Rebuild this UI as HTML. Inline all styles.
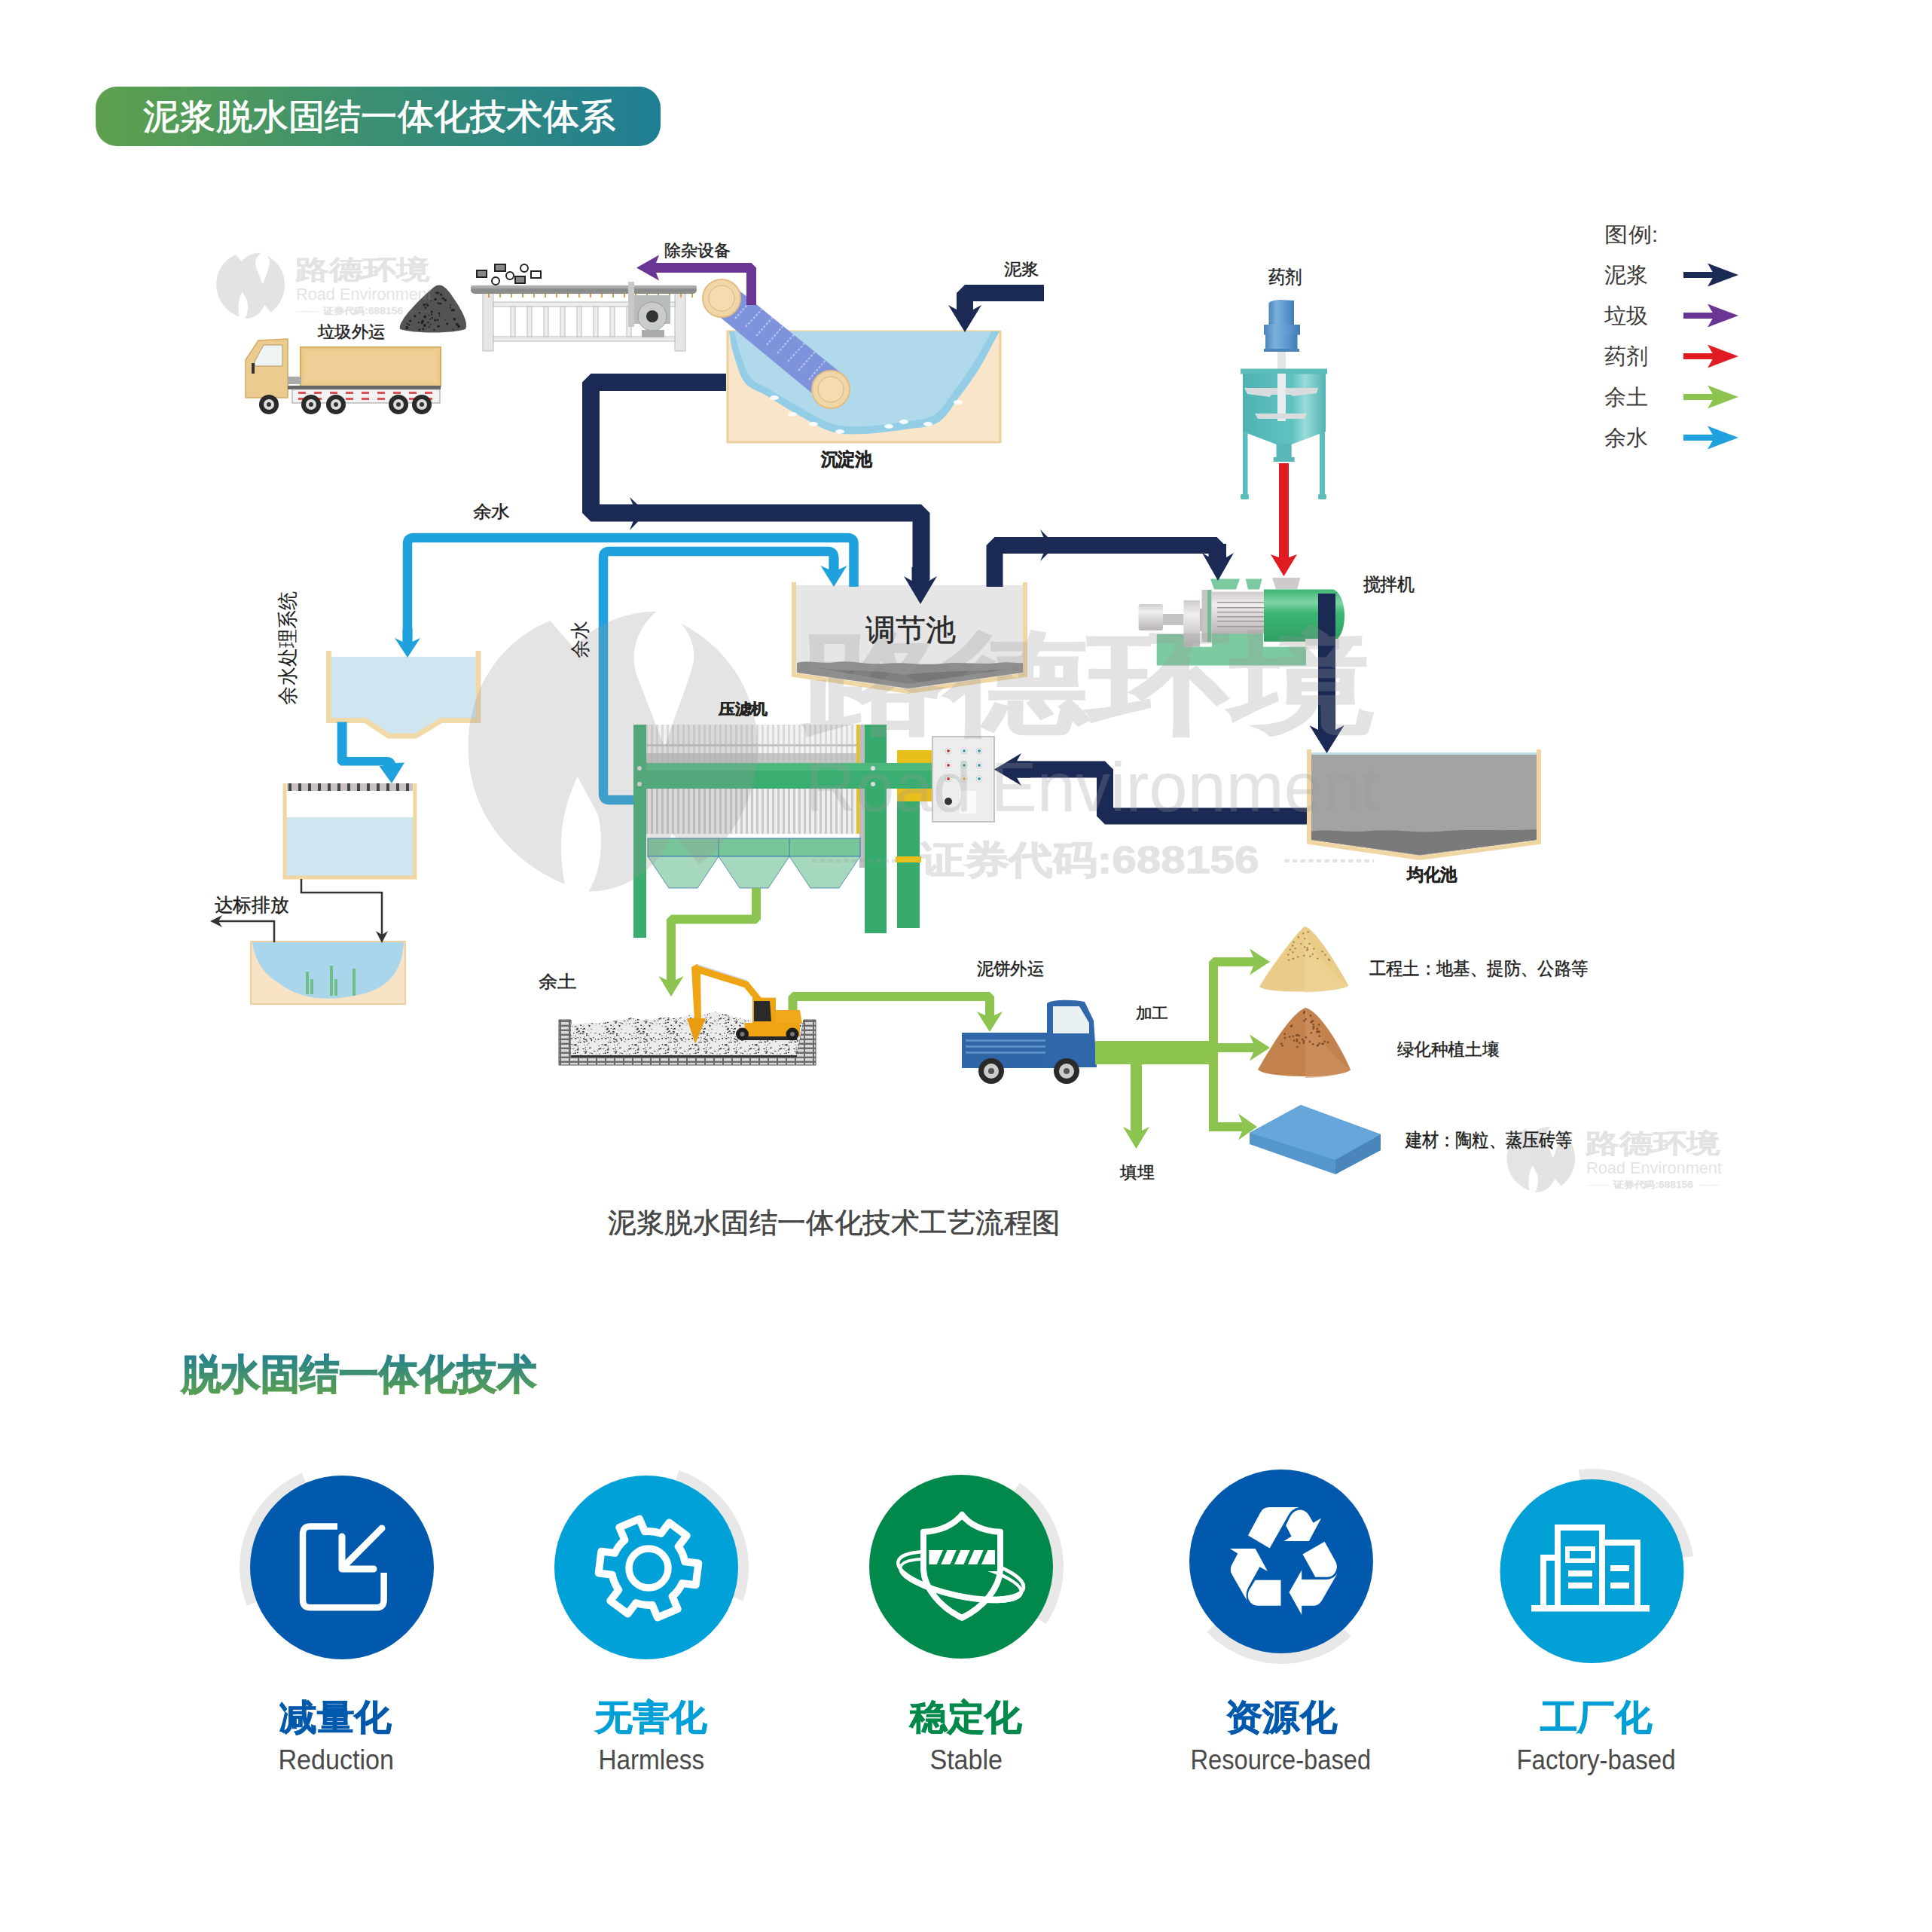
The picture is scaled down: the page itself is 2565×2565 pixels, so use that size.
<!DOCTYPE html><html><head><meta charset="utf-8"><style>html,body{margin:0;padding:0;background:#fff;}svg{display:block}</style></head><body>
<svg width="2565" height="2565" viewBox="0 0 2565 2565" font-family='"Liberation Sans", sans-serif'>
<defs>
<linearGradient id="gTitle" x1="0" y1="0" x2="1" y2="0"><stop offset="0" stop-color="#5da14d"/><stop offset="0.5" stop-color="#3b8f72"/><stop offset="1" stop-color="#1f7e94"/></linearGradient>
<linearGradient id="gSub" x1="0" y1="0" x2="0" y2="1"><stop offset="0" stop-color="#1f7e94"/><stop offset="1" stop-color="#5da14d"/></linearGradient>
<g id="logo"><path d="M26,3.3 L33.4,11.8 C40,4 50,0.5 59.3,0.4 C53,6 51,13 53,20 L61.9,43.1 C65,33 69,24 71,16 C71.5,11 69.5,7 67,4.1 C82,12 91,26 91,43 C91,58 84,71 72.7,79.6 L64.2,69.9 C60,81 50,88 38,88.1 C42,82 43,72 41,64 L34.6,52.2 C30,62 28,72 30.6,85.8 C12,78 0.4,62 0.4,43 C0.4,25 10,10 26,3.3 Z"/></g>
</defs>
<rect width="2565" height="2565" fill="#fff"/>
<rect x="127" y="115" width="750" height="79" rx="28" fill="url(#gTitle)"/>
<text x="190.1" y="170.8" font-size="47.3" fill="#fff" font-weight="500" textLength="626.9" lengthAdjust="spacingAndGlyphs" stroke="#fff" stroke-width="0.9">泥浆脱水固结一体化技术体系</text>
<g id="gtruck">
<rect x="399" y="461" width="186" height="52" fill="#ecc98c" stroke="#d9ac5c" stroke-width="2"/>
<rect x="404" y="466" width="176" height="42" fill="#efcf96"/>
<path d="M326,528 L326,478 L343,452 L382,450 L382,528 Z" fill="#eccb90" stroke="#d4aa60" stroke-width="1.5"/>
<path d="M338,480 L350,458 L375,458 L375,486 L338,486 Z" fill="#eef3f3" stroke="#b89a60" stroke-width="1"/>
<rect x="334" y="482" width="4" height="14" fill="#333"/>
<rect x="382" y="500" width="18" height="10" fill="#aaa"/>
<rect x="382" y="512" width="203" height="5" fill="#666"/>
<rect x="388" y="517" width="196" height="18" fill="#f3f3f3" stroke="#999" stroke-width="1"/>
<rect x="396" y="520" width="10" height="3" fill="#e05050"/>
<rect x="396" y="528" width="10" height="3" fill="#e05050"/>
<rect x="417" y="520" width="10" height="3" fill="#e05050"/>
<rect x="417" y="528" width="10" height="3" fill="#e05050"/>
<rect x="438" y="520" width="10" height="3" fill="#e05050"/>
<rect x="438" y="528" width="10" height="3" fill="#e05050"/>
<rect x="459" y="520" width="10" height="3" fill="#e05050"/>
<rect x="459" y="528" width="10" height="3" fill="#e05050"/>
<rect x="480" y="520" width="10" height="3" fill="#e05050"/>
<rect x="480" y="528" width="10" height="3" fill="#e05050"/>
<rect x="501" y="520" width="10" height="3" fill="#e05050"/>
<rect x="501" y="528" width="10" height="3" fill="#e05050"/>
<rect x="522" y="520" width="10" height="3" fill="#e05050"/>
<rect x="522" y="528" width="10" height="3" fill="#e05050"/>
<rect x="543" y="520" width="10" height="3" fill="#e05050"/>
<rect x="543" y="528" width="10" height="3" fill="#e05050"/>
<rect x="564" y="520" width="10" height="3" fill="#e05050"/>
<rect x="564" y="528" width="10" height="3" fill="#e05050"/>
<circle cx="357" cy="537" r="13" fill="#2a2a2a"/><circle cx="357" cy="537" r="7" fill="#ddd"/><circle cx="357" cy="537" r="3" fill="#333"/>
<circle cx="413" cy="537" r="13" fill="#2a2a2a"/><circle cx="413" cy="537" r="7" fill="#ddd"/><circle cx="413" cy="537" r="3" fill="#333"/>
<circle cx="446" cy="537" r="13" fill="#2a2a2a"/><circle cx="446" cy="537" r="7" fill="#ddd"/><circle cx="446" cy="537" r="3" fill="#333"/>
<circle cx="529" cy="537" r="13" fill="#2a2a2a"/><circle cx="529" cy="537" r="7" fill="#ddd"/><circle cx="529" cy="537" r="3" fill="#333"/>
<circle cx="560" cy="537" r="13" fill="#2a2a2a"/><circle cx="560" cy="537" r="7" fill="#ddd"/><circle cx="560" cy="537" r="3" fill="#333"/>
</g>
<path d="M531,437 C528,425 560,395 575,382 C585,374 592,380 605,400 C615,415 622,430 618,437 C600,443 550,443 531,437 Z" fill="#545454"/>
<circle cx="557.1" cy="415.2" r="1.2" fill="#222"/>
<circle cx="583.5" cy="419.3" r="0.9" fill="#222"/>
<circle cx="540.9" cy="429.9" r="1.1" fill="#222"/>
<circle cx="556.9" cy="437.8" r="1.4" fill="#222"/>
<circle cx="600.2" cy="411.8" r="1.6" fill="#222"/>
<circle cx="550.8" cy="419.7" r="1.8" fill="#222"/>
<circle cx="577.7" cy="425.1" r="1.6" fill="#222"/>
<circle cx="544.6" cy="425.9" r="1.5" fill="#222"/>
<circle cx="602.3" cy="411.6" r="1.7" fill="#222"/>
<circle cx="603.3" cy="423.7" r="1.9" fill="#222"/>
<circle cx="568.4" cy="428.0" r="1.3" fill="#222"/>
<circle cx="607.4" cy="431.9" r="0.9" fill="#222"/>
<circle cx="585.1" cy="403.1" r="1.4" fill="#222"/>
<circle cx="567.8" cy="405.5" r="1.5" fill="#222"/>
<circle cx="582.1" cy="433.2" r="1.6" fill="#222"/>
<circle cx="606.9" cy="430.8" r="2.0" fill="#222"/>
<circle cx="588.3" cy="396.2" r="1.8" fill="#222"/>
<circle cx="609.5" cy="433.2" r="1.5" fill="#222"/>
<circle cx="591.4" cy="398.6" r="1.8" fill="#222"/>
<circle cx="581.3" cy="402.2" r="0.9" fill="#222"/>
<circle cx="601.5" cy="437.5" r="0.9" fill="#222"/>
<circle cx="597.6" cy="408.5" r="1.0" fill="#222"/>
<circle cx="561.2" cy="426.4" r="1.8" fill="#222"/>
<circle cx="563.8" cy="432.0" r="2.0" fill="#222"/>
<circle cx="576.4" cy="437.9" r="1.2" fill="#222"/>
<circle cx="569.4" cy="418.5" r="1.0" fill="#222"/>
<circle cx="543.1" cy="431.4" r="1.2" fill="#222"/>
<circle cx="609.0" cy="432.8" r="1.3" fill="#222"/>
<circle cx="573.1" cy="414.0" r="1.6" fill="#222"/>
<circle cx="582.9" cy="416.0" r="1.5" fill="#222"/>
<circle cx="571.0" cy="424.0" r="1.1" fill="#222"/>
<circle cx="561.7" cy="436.9" r="1.4" fill="#222"/>
<circle cx="579.5" cy="388.6" r="1.3" fill="#222"/>
<circle cx="581.8" cy="389.0" r="1.5" fill="#222"/>
<circle cx="585.5" cy="391.0" r="1.6" fill="#222"/>
<circle cx="573.6" cy="422.0" r="1.2" fill="#222"/>
<circle cx="590.9" cy="424.9" r="0.8" fill="#222"/>
<circle cx="572.9" cy="417.6" r="1.2" fill="#222"/>
<circle cx="566.2" cy="403.6" r="1.2" fill="#222"/>
<circle cx="582.9" cy="403.0" r="1.3" fill="#222"/>
<circle cx="581.0" cy="424.8" r="1.2" fill="#222"/>
<circle cx="556.0" cy="428.2" r="1.1" fill="#222"/>
<circle cx="563.2" cy="404.7" r="1.8" fill="#222"/>
<circle cx="571.6" cy="430.8" r="1.0" fill="#222"/>
<circle cx="564.2" cy="420.5" r="1.9" fill="#222"/>
<circle cx="572.5" cy="399.3" r="0.9" fill="#222"/>
<circle cx="578.1" cy="397.5" r="1.8" fill="#222"/>
<circle cx="560.1" cy="428.4" r="1.6" fill="#222"/>
<circle cx="598.1" cy="405.3" r="1.0" fill="#222"/>
<circle cx="561.0" cy="427.7" r="1.1" fill="#222"/>
<circle cx="564.9" cy="408.8" r="1.3" fill="#222"/>
<circle cx="569.5" cy="434.0" r="1.0" fill="#222"/>
<circle cx="540.3" cy="435.2" r="1.9" fill="#222"/>
<circle cx="608.4" cy="434.4" r="1.1" fill="#222"/>
<circle cx="593.7" cy="429.8" r="1.6" fill="#222"/>
<g>
<rect x="641" y="388" width="14" height="78" fill="#e6e6e6" stroke="#bbb" stroke-width="1"/>
<rect x="896" y="388" width="14" height="78" fill="#e6e6e6" stroke="#bbb" stroke-width="1"/>
<rect x="655" y="401" width="241" height="6" fill="#eee" stroke="#bbb" stroke-width="1"/>
<rect x="655" y="447" width="241" height="6" fill="#eee" stroke="#bbb" stroke-width="1"/>
<rect x="678" y="407" width="6" height="40" fill="#eee" stroke="#bbb" stroke-width="1"/>
<rect x="700" y="407" width="6" height="40" fill="#eee" stroke="#bbb" stroke-width="1"/>
<rect x="722" y="407" width="6" height="40" fill="#eee" stroke="#bbb" stroke-width="1"/>
<rect x="744" y="407" width="6" height="40" fill="#eee" stroke="#bbb" stroke-width="1"/>
<rect x="766" y="407" width="6" height="40" fill="#eee" stroke="#bbb" stroke-width="1"/>
<rect x="788" y="407" width="6" height="40" fill="#eee" stroke="#bbb" stroke-width="1"/>
<rect x="810" y="407" width="6" height="40" fill="#eee" stroke="#bbb" stroke-width="1"/>
<rect x="832" y="407" width="6" height="40" fill="#eee" stroke="#bbb" stroke-width="1"/>
<rect x="625" y="379" width="300" height="11" rx="5" fill="#8c8c8c"/>
<rect x="625" y="379" width="300" height="4" rx="2" fill="#aaa"/>
<rect x="648" y="390" width="2" height="5" fill="#d9a050"/>
<rect x="663" y="390" width="2" height="5" fill="#d9a050"/>
<rect x="678" y="390" width="2" height="5" fill="#d9a050"/>
<rect x="693" y="390" width="2" height="5" fill="#d9a050"/>
<rect x="708" y="390" width="2" height="5" fill="#d9a050"/>
<rect x="723" y="390" width="2" height="5" fill="#d9a050"/>
<rect x="738" y="390" width="2" height="5" fill="#d9a050"/>
<rect x="753" y="390" width="2" height="5" fill="#d9a050"/>
<rect x="768" y="390" width="2" height="5" fill="#d9a050"/>
<rect x="783" y="390" width="2" height="5" fill="#d9a050"/>
<rect x="798" y="390" width="2" height="5" fill="#d9a050"/>
<rect x="813" y="390" width="2" height="5" fill="#d9a050"/>
<rect x="828" y="390" width="2" height="5" fill="#d9a050"/>
<rect x="843" y="390" width="2" height="5" fill="#d9a050"/>
<rect x="858" y="390" width="2" height="5" fill="#d9a050"/>
<rect x="873" y="390" width="2" height="5" fill="#d9a050"/>
<rect x="888" y="390" width="2" height="5" fill="#d9a050"/>
<rect x="903" y="390" width="2" height="5" fill="#d9a050"/>
<rect x="918" y="390" width="2" height="5" fill="#d9a050"/>
<rect x="834" y="374" width="8" height="60" fill="#c8c8c8"/>
<path d="M842,392 L890,392 L890,430 L842,430 Z" fill="#b8bcbc"/>
<circle cx="866" cy="420" r="19" fill="#c8cccc" stroke="#999" stroke-width="1"/>
<circle cx="866" cy="420" r="8" fill="#333"/>
<rect x="852" y="438" width="30" height="10" fill="#aaa"/>
<rect x="633" y="359" width="13" height="9" fill="#888" stroke="#222" stroke-width="2"/>
<rect x="657" y="351" width="14" height="9" fill="#888" stroke="#222" stroke-width="2"/>
<circle cx="658" cy="373" r="5" fill="#fff" stroke="#222" stroke-width="2"/>
<circle cx="677" cy="366" r="5" fill="#fff" stroke="#222" stroke-width="2"/>
<circle cx="696" cy="356" r="5" fill="#fff" stroke="#222" stroke-width="2"/>
<rect x="684" y="367" width="13" height="9" fill="#888" stroke="#222" stroke-width="2"/>
<rect x="705" y="360" width="13" height="9" fill="#fff" stroke="#222" stroke-width="2"/>
</g>
<rect x="966" y="440" width="362" height="147" fill="#f9e5c9" stroke="#ebd09e" stroke-width="3"/>
<path d="M968.0,440.0 C968.9,444.8 970.0,457.4 973.5,468.7 C977.0,480.0 981.5,498.4 988.7,507.8 C996.0,517.2 1005.1,517.8 1017.0,525.0 C1028.9,532.2 1045.5,543.0 1060.0,551.0 C1074.5,559.0 1089.5,568.8 1104.0,573.0 C1118.5,577.2 1130.7,576.5 1147.0,576.0 C1163.3,575.5 1185.7,572.5 1202.0,570.0 C1218.3,567.5 1233.1,568.2 1245.0,561.0 C1256.9,553.8 1264.4,538.8 1273.5,527.0 C1282.6,515.2 1291.7,502.7 1299.6,490.0 C1307.5,477.3 1316.4,459.3 1321.0,451.0 C1325.6,442.7 1326.0,441.8 1327.0,440.0 Z" fill="#93cde6"/>
<path d="M975.0,440.0 C976.3,445.0 979.3,459.7 983.0,470.0 C986.7,480.3 990.5,494.2 997.0,502.0 C1003.5,509.8 1010.8,510.3 1022.0,517.0 C1033.2,523.7 1050.0,534.3 1064.0,542.0 C1078.0,549.7 1092.2,559.0 1106.0,563.0 C1119.8,567.0 1131.3,566.5 1147.0,566.0 C1162.7,565.5 1184.5,562.5 1200.0,560.0 C1215.5,557.5 1229.0,557.7 1240.0,551.0 C1251.0,544.3 1257.7,530.8 1266.0,520.0 C1274.3,509.2 1282.7,497.3 1290.0,486.0 C1297.3,474.7 1305.7,459.7 1310.0,452.0 C1314.3,444.3 1315.0,442.0 1316.0,440.0 Z" fill="#b0daec"/>
<ellipse cx="1028" cy="528" rx="6" ry="3" fill="#fff" opacity="0.9"/>
<ellipse cx="1052" cy="550" rx="6" ry="3" fill="#fff" opacity="0.9"/>
<ellipse cx="1080" cy="563" rx="6" ry="3" fill="#fff" opacity="0.9"/>
<ellipse cx="1115" cy="573" rx="6" ry="3" fill="#fff" opacity="0.9"/>
<ellipse cx="1180" cy="566" rx="6" ry="3" fill="#fff" opacity="0.9"/>
<ellipse cx="1200" cy="560" rx="6" ry="3" fill="#fff" opacity="0.9"/>
<ellipse cx="1232" cy="563" rx="6" ry="3" fill="#fff" opacity="0.9"/>
<ellipse cx="1272" cy="534" rx="6" ry="3" fill="#fff" opacity="0.9"/>
<path d="M945,412 L972,378 L1120,498 L1090,532 Z" fill="#7f93dc"/>
<path d="M948,400 L970,375" stroke="#b8c6f0" stroke-width="2" stroke-dasharray="3,2"/>
<path d="M962,412 L984,386" stroke="#b8c6f0" stroke-width="2" stroke-dasharray="3,2"/>
<path d="M976,423 L998,398" stroke="#b8c6f0" stroke-width="2" stroke-dasharray="3,2"/>
<path d="M990,434 L1012,410" stroke="#b8c6f0" stroke-width="2" stroke-dasharray="3,2"/>
<path d="M1004,446 L1026,421" stroke="#b8c6f0" stroke-width="2" stroke-dasharray="3,2"/>
<path d="M1018,458 L1040,432" stroke="#b8c6f0" stroke-width="2" stroke-dasharray="3,2"/>
<path d="M1032,469 L1054,444" stroke="#b8c6f0" stroke-width="2" stroke-dasharray="3,2"/>
<path d="M1046,480 L1068,456" stroke="#b8c6f0" stroke-width="2" stroke-dasharray="3,2"/>
<path d="M1060,492 L1082,467" stroke="#b8c6f0" stroke-width="2" stroke-dasharray="3,2"/>
<path d="M1074,504 L1096,478" stroke="#b8c6f0" stroke-width="2" stroke-dasharray="3,2"/>
<circle cx="958" cy="396" r="25" fill="#f1d6a8" stroke="#e3bd84" stroke-width="2"/><circle cx="958" cy="396" r="17" fill="#f4dbb0" stroke="#d8b27c" stroke-width="1"/>
<circle cx="1103" cy="517" r="25" fill="#f1d6a8" stroke="#e3bd84" stroke-width="2"/><circle cx="1103" cy="517" r="17" fill="#f4dbb0" stroke="#d8b27c" stroke-width="1"/>
<defs><linearGradient id="gBlueCyl" x1="0" x2="1"><stop offset="0" stop-color="#4a86bd"/><stop offset="0.3" stop-color="#7bb0dc"/><stop offset="0.7" stop-color="#5b97cc"/><stop offset="1" stop-color="#3f7cb4"/></linearGradient>
<linearGradient id="gTealCyl" x1="0" x2="1"><stop offset="0" stop-color="#4fb2b2"/><stop offset="0.6" stop-color="#62c2c2"/><stop offset="0.75" stop-color="#9adada"/><stop offset="1" stop-color="#52b4b4"/></linearGradient></defs>
<g>
<path d="M1684.5,431 L1684.5,402 Q1690,398 1700,398 L1718,399 L1718,431 Z" fill="url(#gBlueCyl)"/>
<rect x="1678" y="431" width="48" height="13.5" fill="url(#gBlueCyl)"/>
<rect x="1680" y="444" width="42.5" height="20" fill="url(#gBlueCyl)"/>
<rect x="1678" y="463" width="47" height="4" fill="#4a86bd"/>
<rect x="1696" y="467" width="11" height="92" fill="#e2e6e6"/>
<path d="M1650,496 L1760,496 L1760,573 L1714.7,590 L1694.5,590 L1650,573 Z" fill="url(#gTealCyl)"/>
<rect x="1647" y="489.5" width="115" height="7" fill="#5cbcbc"/>
<rect x="1696" y="496" width="11" height="63" fill="#e8ecec"/>
<path d="M1652,515 L1696,515 L1696,524 L1688,524 L1686,527 L1656,523 Z M1707,515 L1750,515 L1748,522 L1716,526 L1714,524 L1707,524 Z" fill="#d9dcdc"/>
<path d="M1666,549 L1735,549 L1732,556 L1670,556 Z" fill="#d9dcdc"/>
<rect x="1694.5" y="589" width="20.2" height="19" fill="#5ab8b8"/>
<rect x="1690.7" y="607" width="28" height="6" fill="#5ab8b8"/>
<rect x="1650" y="573" width="6.5" height="88" fill="#5cbcbc"/><rect x="1752" y="573" width="7" height="88" fill="#5cbcbc"/>
<rect x="1647" y="656" width="11" height="7" rx="2" fill="#5cbcbc"/><rect x="1750" y="656" width="11" height="7" rx="2" fill="#5cbcbc"/>
</g>
<defs><linearGradient id="gMotor" x1="0" y1="0" x2="0" y2="1"><stop offset="0" stop-color="#3fb574"/><stop offset="0.25" stop-color="#7fd3a4"/><stop offset="0.45" stop-color="#3db774"/><stop offset="1" stop-color="#2f9f62"/></linearGradient>
<linearGradient id="gGrayV" x1="0" y1="0" x2="0" y2="1"><stop offset="0" stop-color="#d0cccc"/><stop offset="0.3" stop-color="#f0eeee"/><stop offset="1" stop-color="#b8b4b4"/></linearGradient></defs>
<g>
<path d="M1535.7,858.7 L1535.7,842 L1574,842 L1574,858.7 L1734,858.7 L1734,883.5 L1535.7,883.5 Z" fill="#7ccaa0"/>
<rect x="1609" y="841" width="68" height="18" fill="#7ccaa0"/>
<path d="M1607,768.6 L1646,768.6 L1641,782.6 L1612,782.6 Z M1653.7,768.6 L1675.5,768.6 L1672,782.6 L1657,782.6 Z" fill="#7ccaa0"/>
<path d="M1689,767 L1726.7,767 L1722,782 L1694,782 Z" fill="#cfcaca"/>
<rect x="1511.6" y="802" width="32.4" height="35" rx="3" fill="url(#gGrayV)"/>
<rect x="1544" y="815" width="27.4" height="15" fill="#c4c4c4"/>
<rect x="1571.4" y="797" width="21.6" height="61.7" fill="url(#gGrayV)"/>
<rect x="1593" y="808" width="3" height="30" fill="#bbb"/>
<rect x="1595.5" y="783" width="13.5" height="69.5" fill="#c9c4c4"/>
<rect x="1603" y="783" width="5" height="69.5" fill="#3db774" opacity="0.6"/>
<rect x="1608.7" y="785.7" width="70" height="56" fill="url(#gGrayV)"/>
<rect x="1616" y="799" width="62" height="1.5" fill="#a09898"/>
<rect x="1616" y="806" width="62" height="1.5" fill="#a09898"/>
<rect x="1616" y="812" width="62" height="1.5" fill="#a09898"/>
<rect x="1616" y="818" width="62" height="1.5" fill="#a09898"/>
<rect x="1616" y="824" width="62" height="1.5" fill="#a09898"/>
<rect x="1616" y="831" width="62" height="1.5" fill="#a09898"/>
<path d="M1678,782.6 L1770,782.6 C1790,790 1790,845 1770,851.7 L1678,851.7 Z" fill="url(#gMotor)"/>
<rect x="1733" y="848" width="45" height="14" fill="#e6e6e6"/>
</g>
<g>
<path d="M1055,777 L1359,777 L1359,893 L1206,915 L1055,893 Z" fill="#e6e6e6"/>
<path d="M1058,880 C1075,876 1090,882 1110,879 C1130,876 1150,883 1175,881 C1200,878 1220,884 1250,881 C1280,878 1300,883 1325,880 C1340,878 1350,881 1358,880 L1358,893 L1206,914 L1058,893 Z" fill="#8c8c8c"/>
<path d="M1080,886 C1120,892 1160,888 1200,896 C1250,890 1300,892 1340,888 L1206,908 Z" fill="#777"/>
<path d="M1054,773 L1054,896 L1206,918 L1361,896 L1361,773" fill="none" stroke="#f0d6a2" stroke-width="6"/>
</g>
<g>
<path d="M1740,1001 L2041,1001 L2041,1115 L1885,1136 L1740,1115 Z" fill="#a3a3a3"/>
<path d="M1740,1104 C1760,1100 1790,1106 1820,1103 C1850,1100 1880,1106 1910,1104 C1950,1100 1990,1104 2041,1101 L2041,1115 L1885,1135 L1740,1115 Z" fill="#7a7a7a"/>
<rect x="1740" y="999" width="301" height="3" fill="#bcdde6"/>
<path d="M1738,995 L1738,1118 L1885,1139 L2043,1118 L2043,995" fill="none" stroke="#f0d6a2" stroke-width="6"/>
</g>
<path d="M437,872 L635,872 L635,953 L586,953 L552,974 L516,974 L485,953 L437,953 Z" fill="#cfe6f1"/>
<path d="M436.5,864 L436.5,956.5 L485,956.5 L516,977 L552,977 L586,956.5 L635,956.5 L635,864" fill="none" stroke="#f2d9a8" stroke-width="7"/>
<rect x="379" y="1085" width="171" height="78" fill="#cfe6f1"/>
<path d="M378,1040 L378,1165 L551,1165 L551,1040" fill="none" stroke="#f0d6a2" stroke-width="5"/>
<rect x="381" y="1040" width="167" height="10" fill="#c8c0c4"/>
<rect x="383" y="1040" width="4" height="10" fill="#444"/>
<rect x="396" y="1040" width="4" height="10" fill="#444"/>
<rect x="409" y="1040" width="4" height="10" fill="#444"/>
<rect x="422" y="1040" width="4" height="10" fill="#444"/>
<rect x="435" y="1040" width="4" height="10" fill="#444"/>
<rect x="448" y="1040" width="4" height="10" fill="#444"/>
<rect x="461" y="1040" width="4" height="10" fill="#444"/>
<rect x="474" y="1040" width="4" height="10" fill="#444"/>
<rect x="487" y="1040" width="4" height="10" fill="#444"/>
<rect x="500" y="1040" width="4" height="10" fill="#444"/>
<rect x="513" y="1040" width="4" height="10" fill="#444"/>
<rect x="526" y="1040" width="4" height="10" fill="#444"/>
<rect x="539" y="1040" width="4" height="10" fill="#444"/>
<rect x="333" y="1250" width="205" height="83" fill="#f8e3c6" stroke="#eccf9e" stroke-width="2"/>
<path d="M335,1251 L536,1251 C534,1290 515,1315 470,1322 C430,1330 395,1325 370,1305 C345,1290 338,1270 335,1251 Z" fill="#a9d6ea"/>
<path d="M408,1320 L408,1290 M414,1320 L414,1300 M440,1322 L440,1282 M446,1322 L446,1300 M470,1322 L470,1286" stroke="#6fbf8a" stroke-width="4"/>
<defs><pattern id="speck" width="40" height="40" patternUnits="userSpaceOnUse"><rect width="40" height="40" fill="#ececec"/><rect x="13.0" y="6.0" width="2.0" height="0.7" fill="#2a2a2a"/><rect x="21.4" y="14.6" width="0.9" height="1.1" fill="#2a2a2a"/><rect x="1.5" y="17.3" width="0.9" height="0.7" fill="#2a2a2a"/><rect x="17.0" y="33.1" width="1.0" height="0.8" fill="#2a2a2a"/><rect x="25.1" y="37.9" width="1.8" height="1.0" fill="#2a2a2a"/><rect x="39.1" y="1.9" width="2.3" height="0.9" fill="#2a2a2a"/><rect x="5.8" y="4.7" width="1.4" height="1.4" fill="#2a2a2a"/><rect x="7.2" y="23.3" width="2.0" height="1.0" fill="#2a2a2a"/><rect x="21.9" y="2.5" width="0.9" height="0.8" fill="#2a2a2a"/><rect x="27.2" y="17.1" width="1.4" height="1.2" fill="#2a2a2a"/><rect x="18.1" y="12.0" width="2.2" height="1.3" fill="#2a2a2a"/><rect x="9.8" y="23.0" width="1.7" height="1.5" fill="#2a2a2a"/><rect x="29.2" y="11.5" width="2.6" height="0.7" fill="#2a2a2a"/><rect x="16.7" y="30.3" width="1.1" height="1.1" fill="#2a2a2a"/><rect x="1.6" y="26.7" width="2.2" height="1.2" fill="#2a2a2a"/><rect x="35.0" y="12.5" width="2.1" height="1.2" fill="#2a2a2a"/><rect x="23.2" y="18.2" width="2.3" height="1.5" fill="#2a2a2a"/><rect x="19.0" y="26.6" width="0.9" height="1.3" fill="#2a2a2a"/><rect x="25.9" y="39.7" width="2.3" height="0.9" fill="#2a2a2a"/><rect x="15.4" y="26.7" width="0.8" height="1.1" fill="#2a2a2a"/><rect x="6.7" y="4.7" width="0.9" height="1.4" fill="#2a2a2a"/><rect x="5.2" y="9.9" width="1.5" height="1.5" fill="#2a2a2a"/><rect x="3.2" y="18.0" width="1.8" height="1.5" fill="#2a2a2a"/><rect x="32.8" y="34.6" width="1.3" height="1.0" fill="#2a2a2a"/><rect x="14.4" y="35.4" width="2.5" height="0.8" fill="#2a2a2a"/><rect x="7.0" y="9.3" width="1.2" height="1.1" fill="#2a2a2a"/><rect x="23.6" y="10.5" width="0.8" height="1.0" fill="#2a2a2a"/><rect x="14.8" y="22.7" width="2.5" height="1.3" fill="#2a2a2a"/><rect x="20.6" y="24.7" width="2.0" height="0.7" fill="#2a2a2a"/><rect x="36.0" y="31.2" width="2.4" height="1.4" fill="#2a2a2a"/><rect x="15.7" y="16.0" width="1.0" height="1.2" fill="#2a2a2a"/><rect x="2.5" y="2.7" width="1.2" height="0.8" fill="#2a2a2a"/><rect x="13.6" y="2.1" width="0.8" height="0.8" fill="#2a2a2a"/><rect x="4.1" y="14.5" width="0.8" height="1.5" fill="#2a2a2a"/><rect x="24.6" y="5.9" width="1.3" height="0.9" fill="#2a2a2a"/><rect x="14.6" y="4.9" width="2.3" height="1.6" fill="#2a2a2a"/><rect x="18.6" y="19.4" width="1.0" height="0.7" fill="#2a2a2a"/><rect x="13.7" y="10.6" width="2.3" height="0.8" fill="#2a2a2a"/><rect x="0.9" y="38.0" width="1.8" height="0.7" fill="#2a2a2a"/><rect x="21.7" y="1.1" width="1.8" height="1.6" fill="#2a2a2a"/><rect x="34.5" y="27.8" width="1.3" height="1.0" fill="#2a2a2a"/><rect x="6.7" y="30.9" width="1.8" height="1.4" fill="#2a2a2a"/><rect x="13.2" y="8.9" width="2.3" height="1.6" fill="#2a2a2a"/><rect x="34.1" y="32.2" width="2.3" height="1.3" fill="#2a2a2a"/><rect x="9.1" y="20.7" width="1.4" height="0.6" fill="#2a2a2a"/><rect x="1.1" y="11.2" width="1.3" height="1.3" fill="#2a2a2a"/><rect x="38.3" y="17.9" width="2.5" height="1.6" fill="#2a2a2a"/><rect x="38.2" y="14.6" width="1.2" height="0.8" fill="#2a2a2a"/><rect x="7.9" y="8.2" width="1.9" height="1.5" fill="#2a2a2a"/><rect x="33.6" y="19.2" width="2.0" height="1.4" fill="#2a2a2a"/><rect x="3.4" y="26.4" width="2.4" height="1.4" fill="#2a2a2a"/><rect x="30.0" y="19.1" width="1.1" height="1.4" fill="#2a2a2a"/><rect x="13.3" y="32.0" width="2.5" height="1.0" fill="#2a2a2a"/><rect x="16.1" y="37.9" width="2.1" height="0.8" fill="#2a2a2a"/><rect x="5.1" y="6.0" width="2.4" height="1.4" fill="#2a2a2a"/><rect x="5.8" y="33.1" width="2.6" height="1.3" fill="#2a2a2a"/><rect x="14.0" y="21.9" width="1.0" height="0.6" fill="#2a2a2a"/><rect x="38.8" y="26.0" width="1.7" height="1.5" fill="#2a2a2a"/><rect x="17.4" y="34.9" width="2.3" height="0.8" fill="#2a2a2a"/><rect x="10.1" y="11.7" width="1.2" height="1.2" fill="#2a2a2a"/><rect x="10.4" y="16.8" width="1.0" height="1.5" fill="#2a2a2a"/><rect x="14.2" y="18.3" width="1.9" height="1.5" fill="#2a2a2a"/><rect x="16.8" y="36.7" width="1.7" height="1.1" fill="#2a2a2a"/><rect x="20.9" y="0.7" width="1.6" height="0.8" fill="#2a2a2a"/><rect x="0.2" y="32.0" width="1.1" height="1.1" fill="#2a2a2a"/><rect x="29.0" y="22.3" width="1.4" height="1.1" fill="#2a2a2a"/><rect x="22.2" y="31.4" width="1.0" height="1.2" fill="#2a2a2a"/><rect x="9.9" y="11.1" width="2.2" height="1.1" fill="#2a2a2a"/><rect x="22.5" y="30.4" width="2.4" height="1.0" fill="#2a2a2a"/><rect x="24.5" y="20.2" width="1.7" height="1.3" fill="#2a2a2a"/><rect x="18.1" y="21.3" width="1.7" height="1.5" fill="#2a2a2a"/><rect x="28.0" y="35.1" width="2.5" height="0.9" fill="#2a2a2a"/><rect x="22.4" y="37.7" width="2.3" height="0.7" fill="#2a2a2a"/><rect x="4.9" y="17.7" width="0.9" height="0.8" fill="#2a2a2a"/><rect x="2.9" y="26.8" width="2.2" height="1.5" fill="#2a2a2a"/><rect x="6.2" y="28.6" width="2.0" height="0.7" fill="#2a2a2a"/><rect x="35.3" y="38.7" width="1.2" height="1.6" fill="#2a2a2a"/><rect x="15.9" y="19.5" width="2.6" height="1.4" fill="#2a2a2a"/><rect x="6.5" y="17.3" width="1.7" height="0.9" fill="#2a2a2a"/><rect x="7.8" y="12.7" width="2.1" height="0.6" fill="#2a2a2a"/><rect x="22.2" y="17.6" width="0.8" height="0.9" fill="#2a2a2a"/><rect x="25.0" y="20.5" width="0.9" height="1.6" fill="#2a2a2a"/><rect x="31.5" y="38.9" width="1.0" height="0.9" fill="#2a2a2a"/><rect x="1.6" y="31.2" width="1.3" height="0.7" fill="#2a2a2a"/><rect x="16.9" y="36.5" width="2.3" height="0.9" fill="#2a2a2a"/><rect x="6.0" y="36.8" width="1.8" height="1.3" fill="#2a2a2a"/><rect x="3.6" y="2.3" width="2.0" height="1.0" fill="#2a2a2a"/><rect x="2.9" y="37.5" width="1.9" height="1.4" fill="#2a2a2a"/><rect x="3.3" y="34.2" width="0.9" height="1.5" fill="#2a2a2a"/><rect x="18.2" y="13.6" width="1.8" height="1.5" fill="#2a2a2a"/><rect x="10.7" y="5.2" width="1.7" height="0.8" fill="#2a2a2a"/><rect x="4.4" y="6.5" width="0.9" height="0.8" fill="#2a2a2a"/><rect x="12.5" y="12.2" width="2.2" height="0.9" fill="#2a2a2a"/><rect x="20.0" y="7.1" width="1.4" height="0.6" fill="#2a2a2a"/><rect x="10.0" y="0.6" width="2.1" height="1.2" fill="#2a2a2a"/></pattern>
<pattern id="brick" width="12" height="6" patternUnits="userSpaceOnUse"><rect width="12" height="6" fill="#6a6a6a"/><rect x="1" y="1" width="10" height="3.6" fill="#d8d8d8"/></pattern></defs>
<path d="M742,1354 L758,1354 L758,1403 L1057,1403 L1067,1354 L1083,1354 L1083,1414 L742,1414 Z" fill="url(#brick)" stroke="#555" stroke-width="1"/>
<path d="M758,1403 L758,1360 C790,1358 820,1356 838,1351 C855,1356 870,1352 883,1350 C900,1354 905,1350 917,1347 C930,1352 940,1344 950,1343 C962,1346 972,1350 985,1352 L1000,1356 L1066,1358 L1057,1403 Z" fill="url(#speck)"/>
<rect x="758" y="1401" width="300" height="2.5" fill="#333"/>
<g>
<path d="M918,1284 L925,1280 L993,1303 L1011,1325 L1004,1330 L988,1311 L930,1293 L931,1356 L922,1356 Z" fill="#efa414"/>
<path d="M926,1281 L992,1302" stroke="#cfd6e8" stroke-width="1.5"/>
<path d="M912,1352 L937,1352 L923,1386 Z" fill="#e99c10"/>
<rect x="999" y="1324.6" width="31" height="34" fill="#efa414"/>
<path d="M1001,1329 L1022,1329 L1024,1356 L1001,1356 Z" fill="#2a2a2a"/>
<path d="M1030,1341 L1062,1341 L1065,1358.5 L1030,1358.5 Z" fill="#f2aa1c"/>
<rect x="988.5" y="1358" width="73.5" height="18" fill="#efa414"/>
<rect x="984" y="1376" width="74" height="5" fill="#2a2a2a"/>
<circle cx="985.5" cy="1373" r="8.5" fill="#1e1e1e"/><circle cx="1052" cy="1373" r="8.5" fill="#1e1e1e"/>
<circle cx="985.5" cy="1373" r="3" fill="#777"/><circle cx="1052" cy="1373" r="3" fill="#777"/>
</g>
<g>
<path d="M1277,1371 L1412,1371 L1412,1418 L1277,1418 Z" fill="#2e66a8"/>
<rect x="1282" y="1380" width="106" height="3" fill="#5b8cc4"/>
<rect x="1282" y="1388" width="106" height="3" fill="#5b8cc4"/>
<rect x="1282" y="1396" width="106" height="3" fill="#5b8cc4"/>
<path d="M1390,1333 C1390,1328 1420,1326 1440,1330 L1452,1355 L1456,1417 L1390,1417 Z" fill="#3067ab"/>
<path d="M1398,1336 L1433,1336 L1446,1358 L1446,1372 L1398,1372 Z" fill="#e8f0f2"/>
<circle cx="1316" cy="1422" r="17" fill="#2a2a2a"/><circle cx="1316" cy="1422" r="10" fill="#ccc"/><circle cx="1316" cy="1422" r="4" fill="#555"/>
<circle cx="1416" cy="1422" r="17" fill="#2a2a2a"/><circle cx="1416" cy="1422" r="10" fill="#ccc"/><circle cx="1416" cy="1422" r="4" fill="#555"/>
</g>
<path d="M1672,1310 C1690,1280 1720,1240 1732,1230 C1745,1232 1775,1280 1790,1308 C1786,1318 1682,1320 1672,1310 Z" fill="#ebcb88"/>
<path d="M1732,1230 C1740,1260 1760,1290 1790,1308 C1775,1316 1740,1318 1732,1318 Z" fill="#f0d49a" opacity="0.6"/>
<circle cx="1732.1" cy="1257.4" r="1.2" fill="#a8844a"/>
<circle cx="1735.5" cy="1258.5" r="1.2" fill="#a8844a"/>
<circle cx="1716.1" cy="1255.5" r="1.2" fill="#a8844a"/>
<circle cx="1742.8" cy="1266.7" r="1.2" fill="#a8844a"/>
<circle cx="1710.4" cy="1267.4" r="1.2" fill="#a8844a"/>
<circle cx="1763.9" cy="1273.6" r="1.2" fill="#a8844a"/>
<circle cx="1744.2" cy="1259.6" r="1.2" fill="#a8844a"/>
<circle cx="1736.7" cy="1237.4" r="1.2" fill="#a8844a"/>
<circle cx="1731.4" cy="1268.7" r="1.2" fill="#a8844a"/>
<circle cx="1736.1" cy="1260.6" r="1.2" fill="#a8844a"/>
<circle cx="1735.0" cy="1261.5" r="1.2" fill="#a8844a"/>
<circle cx="1732.4" cy="1246.1" r="1.2" fill="#a8844a"/>
<circle cx="1764.9" cy="1274.8" r="1.2" fill="#a8844a"/>
<circle cx="1755.4" cy="1263.3" r="1.2" fill="#a8844a"/>
<circle cx="1723.9" cy="1244.2" r="1.2" fill="#a8844a"/>
<circle cx="1738.6" cy="1252.9" r="1.2" fill="#a8844a"/>
<circle cx="1716.4" cy="1264.3" r="1.2" fill="#a8844a"/>
<circle cx="1712.9" cy="1260.7" r="1.2" fill="#a8844a"/>
<circle cx="1723.2" cy="1270.4" r="1.2" fill="#a8844a"/>
<circle cx="1717.6" cy="1250.8" r="1.2" fill="#a8844a"/>
<circle cx="1711.0" cy="1274.6" r="1.2" fill="#a8844a"/>
<circle cx="1719.6" cy="1259.1" r="1.2" fill="#a8844a"/>
<circle cx="1727.3" cy="1253.1" r="1.2" fill="#a8844a"/>
<circle cx="1739.5" cy="1269.7" r="1.2" fill="#a8844a"/>
<circle cx="1759.5" cy="1267.7" r="1.2" fill="#a8844a"/>
<circle cx="1749.4" cy="1272.6" r="1.2" fill="#a8844a"/>
<circle cx="1716.8" cy="1273.0" r="1.2" fill="#a8844a"/>
<circle cx="1730.3" cy="1239.2" r="1.2" fill="#a8844a"/>
<path d="M1670,1420 C1690,1385 1715,1345 1733,1338 C1752,1342 1780,1390 1793,1420 C1785,1432 1680,1432 1670,1420 Z" fill="#c3814e"/>
<path d="M1733,1338 C1745,1370 1765,1400 1793,1420 C1775,1430 1745,1431 1733,1431 Z" fill="#cf9462" opacity="0.6"/>
<circle cx="1702.7" cy="1388.2" r="1.3" fill="#7a4a28"/>
<circle cx="1716.7" cy="1375.8" r="1.3" fill="#7a4a28"/>
<circle cx="1718.0" cy="1381.5" r="1.3" fill="#7a4a28"/>
<circle cx="1741.8" cy="1356.1" r="1.3" fill="#7a4a28"/>
<circle cx="1712.3" cy="1376.6" r="1.3" fill="#7a4a28"/>
<circle cx="1739.2" cy="1382.9" r="1.3" fill="#7a4a28"/>
<circle cx="1743.0" cy="1355.5" r="1.3" fill="#7a4a28"/>
<circle cx="1731.2" cy="1344.9" r="1.3" fill="#7a4a28"/>
<circle cx="1740.1" cy="1348.3" r="1.3" fill="#7a4a28"/>
<circle cx="1725.4" cy="1384.8" r="1.3" fill="#7a4a28"/>
<circle cx="1748.4" cy="1370.1" r="1.3" fill="#7a4a28"/>
<circle cx="1701.3" cy="1385.7" r="1.3" fill="#7a4a28"/>
<circle cx="1749.1" cy="1388.2" r="1.3" fill="#7a4a28"/>
<circle cx="1733.8" cy="1377.1" r="1.3" fill="#7a4a28"/>
<circle cx="1722.3" cy="1390.0" r="1.3" fill="#7a4a28"/>
<circle cx="1751.6" cy="1385.2" r="1.3" fill="#7a4a28"/>
<circle cx="1751.6" cy="1375.8" r="1.3" fill="#7a4a28"/>
<circle cx="1755.5" cy="1385.9" r="1.3" fill="#7a4a28"/>
<circle cx="1724.6" cy="1374.9" r="1.3" fill="#7a4a28"/>
<circle cx="1763.1" cy="1383.8" r="1.3" fill="#7a4a28"/>
<circle cx="1729.2" cy="1379.9" r="1.3" fill="#7a4a28"/>
<circle cx="1743.7" cy="1360.4" r="1.3" fill="#7a4a28"/>
<circle cx="1740.8" cy="1371.2" r="1.3" fill="#7a4a28"/>
<circle cx="1705.6" cy="1372.7" r="1.3" fill="#7a4a28"/>
<circle cx="1751.0" cy="1360.6" r="1.3" fill="#7a4a28"/>
<circle cx="1751.5" cy="1369.9" r="1.3" fill="#7a4a28"/>
<circle cx="1730.8" cy="1382.2" r="1.3" fill="#7a4a28"/>
<circle cx="1705.9" cy="1378.0" r="1.3" fill="#7a4a28"/>
<circle cx="1733.7" cy="1353.1" r="1.3" fill="#7a4a28"/>
<circle cx="1748.9" cy="1365.9" r="1.3" fill="#7a4a28"/>
<circle cx="1743.0" cy="1386.2" r="1.3" fill="#7a4a28"/>
<circle cx="1721.1" cy="1374.6" r="1.3" fill="#7a4a28"/>
<circle cx="1730.9" cy="1384.8" r="1.3" fill="#7a4a28"/>
<circle cx="1722.9" cy="1374.0" r="1.3" fill="#7a4a28"/>
<circle cx="1713.9" cy="1362.7" r="1.3" fill="#7a4a28"/>
<circle cx="1756.4" cy="1385.9" r="1.3" fill="#7a4a28"/>
<circle cx="1740.8" cy="1357.2" r="1.3" fill="#7a4a28"/>
<circle cx="1758.6" cy="1382.7" r="1.3" fill="#7a4a28"/>
<circle cx="1749.8" cy="1387.6" r="1.3" fill="#7a4a28"/>
<circle cx="1731.5" cy="1355.2" r="1.3" fill="#7a4a28"/>
<circle cx="1715.0" cy="1361.9" r="1.3" fill="#7a4a28"/>
<circle cx="1743.8" cy="1365.7" r="1.3" fill="#7a4a28"/>
<circle cx="1722.1" cy="1382.3" r="1.3" fill="#7a4a28"/>
<circle cx="1749.6" cy="1369.4" r="1.3" fill="#7a4a28"/>
<circle cx="1721.6" cy="1380.0" r="1.3" fill="#7a4a28"/>
<circle cx="1731.8" cy="1343.2" r="1.3" fill="#7a4a28"/>
<circle cx="1744.0" cy="1363.4" r="1.3" fill="#7a4a28"/>
<path d="M1659,1504 L1727,1467 L1833,1506 L1833,1527 L1773,1559 L1659,1519 Z" fill="#5596cc"/>
<path d="M1659,1504 L1727,1467 L1833,1506 L1773,1540 Z" fill="#66a6da"/>
<path d="M1773,1540 L1833,1506 L1833,1527 L1773,1559 Z" fill="#4a86bc"/>
<g>
<rect x="858" y="962" width="282" height="52" fill="#d9d9d9"/>
<rect x="860" y="962" width="4" height="52" fill="#f2f2f2"/>
<rect x="867" y="962" width="4" height="52" fill="#f2f2f2"/>
<rect x="874" y="962" width="4" height="52" fill="#f2f2f2"/>
<rect x="881" y="962" width="4" height="52" fill="#f2f2f2"/>
<rect x="888" y="962" width="4" height="52" fill="#f2f2f2"/>
<rect x="895" y="962" width="4" height="52" fill="#f2f2f2"/>
<rect x="902" y="962" width="4" height="52" fill="#f2f2f2"/>
<rect x="909" y="962" width="4" height="52" fill="#f2f2f2"/>
<rect x="916" y="962" width="4" height="52" fill="#f2f2f2"/>
<rect x="923" y="962" width="4" height="52" fill="#f2f2f2"/>
<rect x="930" y="962" width="4" height="52" fill="#f2f2f2"/>
<rect x="937" y="962" width="4" height="52" fill="#f2f2f2"/>
<rect x="944" y="962" width="4" height="52" fill="#f2f2f2"/>
<rect x="951" y="962" width="4" height="52" fill="#f2f2f2"/>
<rect x="958" y="962" width="4" height="52" fill="#f2f2f2"/>
<rect x="965" y="962" width="4" height="52" fill="#f2f2f2"/>
<rect x="972" y="962" width="4" height="52" fill="#f2f2f2"/>
<rect x="979" y="962" width="4" height="52" fill="#f2f2f2"/>
<rect x="986" y="962" width="4" height="52" fill="#f2f2f2"/>
<rect x="993" y="962" width="4" height="52" fill="#f2f2f2"/>
<rect x="1000" y="962" width="4" height="52" fill="#f2f2f2"/>
<rect x="1007" y="962" width="4" height="52" fill="#f2f2f2"/>
<rect x="1014" y="962" width="4" height="52" fill="#f2f2f2"/>
<rect x="1021" y="962" width="4" height="52" fill="#f2f2f2"/>
<rect x="1028" y="962" width="4" height="52" fill="#f2f2f2"/>
<rect x="1035" y="962" width="4" height="52" fill="#f2f2f2"/>
<rect x="1042" y="962" width="4" height="52" fill="#f2f2f2"/>
<rect x="1049" y="962" width="4" height="52" fill="#f2f2f2"/>
<rect x="1056" y="962" width="4" height="52" fill="#f2f2f2"/>
<rect x="1063" y="962" width="4" height="52" fill="#f2f2f2"/>
<rect x="1070" y="962" width="4" height="52" fill="#f2f2f2"/>
<rect x="1077" y="962" width="4" height="52" fill="#f2f2f2"/>
<rect x="1084" y="962" width="4" height="52" fill="#f2f2f2"/>
<rect x="1091" y="962" width="4" height="52" fill="#f2f2f2"/>
<rect x="1098" y="962" width="4" height="52" fill="#f2f2f2"/>
<rect x="1105" y="962" width="4" height="52" fill="#f2f2f2"/>
<rect x="1112" y="962" width="4" height="52" fill="#f2f2f2"/>
<rect x="1119" y="962" width="4" height="52" fill="#f2f2f2"/>
<rect x="1126" y="962" width="4" height="52" fill="#f2f2f2"/>
<rect x="1133" y="962" width="4" height="52" fill="#f2f2f2"/>
<rect x="858" y="988" width="282" height="3" fill="#c4c4c4"/>
<rect x="858" y="1000" width="282" height="13" fill="#b5b5b5" opacity="0.7"/>
<rect x="858" y="1047" width="282" height="60" fill="#c9c9c9"/>
<rect x="860" y="1047" width="4" height="60" fill="#f0f0f0"/>
<rect x="867" y="1047" width="4" height="60" fill="#f0f0f0"/>
<rect x="874" y="1047" width="4" height="60" fill="#f0f0f0"/>
<rect x="881" y="1047" width="4" height="60" fill="#f0f0f0"/>
<rect x="888" y="1047" width="4" height="60" fill="#f0f0f0"/>
<rect x="895" y="1047" width="4" height="60" fill="#f0f0f0"/>
<rect x="902" y="1047" width="4" height="60" fill="#f0f0f0"/>
<rect x="909" y="1047" width="4" height="60" fill="#f0f0f0"/>
<rect x="916" y="1047" width="4" height="60" fill="#f0f0f0"/>
<rect x="923" y="1047" width="4" height="60" fill="#f0f0f0"/>
<rect x="930" y="1047" width="4" height="60" fill="#f0f0f0"/>
<rect x="937" y="1047" width="4" height="60" fill="#f0f0f0"/>
<rect x="944" y="1047" width="4" height="60" fill="#f0f0f0"/>
<rect x="951" y="1047" width="4" height="60" fill="#f0f0f0"/>
<rect x="958" y="1047" width="4" height="60" fill="#f0f0f0"/>
<rect x="965" y="1047" width="4" height="60" fill="#f0f0f0"/>
<rect x="972" y="1047" width="4" height="60" fill="#f0f0f0"/>
<rect x="979" y="1047" width="4" height="60" fill="#f0f0f0"/>
<rect x="986" y="1047" width="4" height="60" fill="#f0f0f0"/>
<rect x="993" y="1047" width="4" height="60" fill="#f0f0f0"/>
<rect x="1000" y="1047" width="4" height="60" fill="#f0f0f0"/>
<rect x="1007" y="1047" width="4" height="60" fill="#f0f0f0"/>
<rect x="1014" y="1047" width="4" height="60" fill="#f0f0f0"/>
<rect x="1021" y="1047" width="4" height="60" fill="#f0f0f0"/>
<rect x="1028" y="1047" width="4" height="60" fill="#f0f0f0"/>
<rect x="1035" y="1047" width="4" height="60" fill="#f0f0f0"/>
<rect x="1042" y="1047" width="4" height="60" fill="#f0f0f0"/>
<rect x="1049" y="1047" width="4" height="60" fill="#f0f0f0"/>
<rect x="1056" y="1047" width="4" height="60" fill="#f0f0f0"/>
<rect x="1063" y="1047" width="4" height="60" fill="#f0f0f0"/>
<rect x="1070" y="1047" width="4" height="60" fill="#f0f0f0"/>
<rect x="1077" y="1047" width="4" height="60" fill="#f0f0f0"/>
<rect x="1084" y="1047" width="4" height="60" fill="#f0f0f0"/>
<rect x="1091" y="1047" width="4" height="60" fill="#f0f0f0"/>
<rect x="1098" y="1047" width="4" height="60" fill="#f0f0f0"/>
<rect x="1105" y="1047" width="4" height="60" fill="#f0f0f0"/>
<rect x="1112" y="1047" width="4" height="60" fill="#f0f0f0"/>
<rect x="1119" y="1047" width="4" height="60" fill="#f0f0f0"/>
<rect x="1126" y="1047" width="4" height="60" fill="#f0f0f0"/>
<rect x="1133" y="1047" width="4" height="60" fill="#f0f0f0"/>
<rect x="1137" y="962" width="4" height="145" fill="#e6c21a"/>
<rect x="1141" y="962" width="7" height="190" fill="#bdbdbd"/>
<rect x="860" y="1113" width="282" height="24" fill="#79c59a" stroke="#3a7ab0" stroke-width="1"/>
<path d="M860,1137 L954,1137 L954,1113 M954,1137 L1048,1137 L1048,1113" stroke="#3a7ab0" stroke-width="1" fill="none"/>
<path d="M860,1137 L954,1137 L926,1179 L888,1179 Z" fill="#a6d8bd" stroke="#3a7ab0" stroke-width="0.8"/>
<path d="M954,1137 L1048,1137 L1020,1179 L982,1179 Z" fill="#a6d8bd" stroke="#3a7ab0" stroke-width="0.8"/>
<path d="M1048,1137 L1142,1137 L1114,1179 L1076,1179 Z" fill="#a6d8bd" stroke="#3a7ab0" stroke-width="0.8"/>
<rect x="841" y="962" width="17" height="283" fill="#3aad6e"/>
<rect x="1148" y="962" width="29" height="277" fill="#36ab6c"/>
<rect x="1191" y="1064" width="30" height="168" fill="#36ab6c"/>
<rect x="1191" y="996" width="47" height="68" fill="#e9bf1c"/>
<rect x="1189" y="1137" width="34" height="8" fill="#e9bf1c"/>
<rect x="858" y="1013" width="380" height="34" fill="#3aae70"/>
<rect x="858" y="1013" width="380" height="10" fill="#5fc08a" opacity="0.5"/>
<circle cx="849" cy="1020" r="3" fill="#ddd"/>
<circle cx="849" cy="1041" r="3" fill="#ddd"/>
<circle cx="1159" cy="1020" r="3" fill="#ddd"/>
<circle cx="1159" cy="1041" r="3" fill="#ddd"/>
<rect x="1238" y="978" width="82" height="113" fill="#eceeee" stroke="#c4c4c4" stroke-width="2"/>
<circle cx="1259" cy="997" r="4" fill="#fff" stroke="#ccc" stroke-width="1"/><circle cx="1259" cy="997" r="2" fill="#d03030"/>
<circle cx="1280" cy="997" r="4" fill="#fff" stroke="#ccc" stroke-width="1"/><circle cx="1280" cy="997" r="2" fill="#2aa0b0"/>
<circle cx="1300" cy="997" r="4" fill="#fff" stroke="#ccc" stroke-width="1"/><circle cx="1300" cy="997" r="2" fill="#2aa0b0"/>
<circle cx="1259" cy="1016" r="4" fill="#fff" stroke="#ccc" stroke-width="1"/><circle cx="1259" cy="1016" r="2" fill="#d03030"/>
<circle cx="1280" cy="1016" r="4" fill="#fff" stroke="#ccc" stroke-width="1"/><circle cx="1280" cy="1016" r="2" fill="#2aa0b0"/>
<circle cx="1300" cy="1016" r="4" fill="#fff" stroke="#ccc" stroke-width="1"/><circle cx="1300" cy="1016" r="2" fill="#2aa0b0"/>
<circle cx="1259" cy="1034" r="4" fill="#fff" stroke="#ccc" stroke-width="1"/><circle cx="1259" cy="1034" r="2" fill="#d03030"/>
<circle cx="1280" cy="1034" r="4" fill="#fff" stroke="#ccc" stroke-width="1"/><circle cx="1280" cy="1034" r="2" fill="#e0b020"/>
<circle cx="1300" cy="1034" r="4" fill="#fff" stroke="#ccc" stroke-width="1"/><circle cx="1300" cy="1034" r="2" fill="#2aa0b0"/>
<circle cx="1259" cy="1064" r="5" fill="#333"/>
<rect x="1274" y="1050" width="22" height="30" fill="#fafafa"/>
</g>
<path d="M1386,389 L1281,389 L1281,410" fill="none" stroke="#1b2a55" stroke-width="22" stroke-linejoin="bevel" stroke-linecap="butt"/>
<path d="M1270,378 L1263,385 L1263,400 L1270,400 Z" fill="#fff" opacity="0"/>
<path d="M1259.0,405.0 L1281.0,441.0 L1303.0,405.0 L1292.0,411.0 L1270.0,411.0 Z" fill="#1b2a55"/>
<rect x="1270.0" y="393.0" width="22.0" height="20.0" fill="#1b2a55"/>
<path d="M964,507.5 L784.5,507.5 L784.5,681 L1223,681 L1223,770" fill="none" stroke="#1b2a55" stroke-width="23" stroke-linejoin="bevel" stroke-linecap="butt"/>
<path d="M1200.0,765.0 L1222.0,802.0 L1244.0,765.0 L1233.5,771.0 L1210.5,771.0 Z" fill="#1b2a55"/>
<rect x="1210.5" y="753.0" width="23.0" height="20.0" fill="#1b2a55"/>
<path d="M836.0,680.9 L857.0,681.0 L836.0,681.1 L836.0,681.1 L836.0,680.9 Z" fill="#1b2a55"/>
<rect x="824.0" y="680.9" width="14.0" height="0.2" fill="#1b2a55"/>
<path d="M836,660 L858,681 L836,704 L845,681 Z" fill="#1b2a55"/>
<path d="M1320.5,779 L1320.5,724 L1615.5,724 L1615.5,745" fill="none" stroke="#1b2a55" stroke-width="22" stroke-linejoin="bevel" stroke-linecap="butt"/>
<path d="M1596.0,734.0 L1617.0,771.0 L1638.0,734.0 L1628.0,740.0 L1606.0,740.0 Z" fill="#1b2a55"/>
<rect x="1606.0" y="722.0" width="22.0" height="20.0" fill="#1b2a55"/>
<path d="M1381,703 L1402,724 L1381,745 L1390,724 Z" fill="#1b2a55"/>
<path d="M1761.5,788 L1761.5,970" fill="none" stroke="#1b2a55" stroke-width="23" stroke-linejoin="bevel" stroke-linecap="butt"/>
<path d="M1738.5,963.0 L1761.5,1000.0 L1784.5,963.0 L1773.0,969.0 L1750.0,969.0 Z" fill="#1b2a55"/>
<rect x="1750.0" y="951.0" width="23.0" height="20.0" fill="#1b2a55"/>
<path d="M1735,1083.5 L1467,1083.5 L1467,1021.5 L1350,1021.5" fill="none" stroke="#1b2a55" stroke-width="22" stroke-linejoin="bevel" stroke-linecap="butt"/>
<path d="M1356.0,1000.0 L1320.0,1021.5 L1356.0,1043.0 L1350.0,1032.5 L1350.0,1010.5 Z" fill="#1b2a55"/>
<rect x="1348.0" y="1010.5" width="20.0" height="22.0" fill="#1b2a55"/>
<path d="M997.5,405 L997.5,355.5 L870,355.5" fill="none" stroke="#6a3593" stroke-width="13" stroke-linejoin="bevel" stroke-linecap="butt"/>
<path d="M875.0,338.5 L845.0,355.5 L875.0,372.5 L871.0,362.0 L871.0,349.0 Z" fill="#6a3593"/>
<rect x="869.0" y="349.0" width="18.0" height="13.0" fill="#6a3593"/>
<path d="M1704.5,615 L1704.5,745" fill="none" stroke="#e11b22" stroke-width="13" stroke-linejoin="bevel" stroke-linecap="butt"/>
<path d="M1687.0,736.0 L1704.5,765.0 L1722.0,736.0 L1711.0,740.0 L1698.0,740.0 Z" fill="#e11b22"/>
<rect x="1698.0" y="724.0" width="13.0" height="18.0" fill="#e11b22"/>
<path d="M1133.5,779 L1133.5,722 Q1133.5,714 1125.5,714 L549,714 Q541,714 541,722 L541,855" fill="none" stroke="#1ea1dc" stroke-width="12.5"/>
<path d="M524.0,847.0 L541.0,873.0 L558.0,847.0 L547.5,852.0 L534.5,852.0 Z" fill="#1ea1dc"/>
<rect x="534.5" y="835.0" width="13.0" height="19.0" fill="#1ea1dc"/>
<path d="M841,1062 L809,1062 Q801,1062 801,1054 L801,740 Q801,732 809,732 L1099,732 Q1107,732 1107,740 L1107,760" fill="none" stroke="#1ea1dc" stroke-width="12.5"/>
<path d="M1089.5,751.0 L1107.0,779.0 L1124.5,751.0 L1113.5,756.0 L1100.5,756.0 Z" fill="#1ea1dc"/>
<rect x="1100.5" y="739.0" width="13.0" height="19.0" fill="#1ea1dc"/>
<path d="M447.7,958.6 L460.6,958.6 L460.6,1005 L514,1005 Q522,1005 525,1013 L537,1012.5 L520,1040 L503.5,1017 L511,1016.6 L452,1016.6 L447.7,1012 Z" fill="#1ea1dc"/>
<path d="M400,1167 L400,1185 L507,1185 L507,1245" fill="none" stroke="#333" stroke-width="2.5"/>
<path d="M499,1236 L507,1252 L515,1236 L507,1241 Z" fill="#333"/>
<path d="M364,1251 L364,1223 L286,1223" fill="none" stroke="#333" stroke-width="2.5"/>
<path d="M295,1215 L279,1223 L295,1231 L290,1223 Z" fill="#333"/>
<path d="M1004,1179 L1004,1220.5 L891,1220.5 L891,1300" fill="none" stroke="#8cc44f" stroke-width="12" stroke-linejoin="bevel" stroke-linecap="butt"/>
<path d="M874.5,1296.0 L891.0,1323.0 L907.5,1296.0 L897.0,1301.0 L885.0,1301.0 Z" fill="#8cc44f"/>
<rect x="885.0" y="1284.0" width="12.0" height="19.0" fill="#8cc44f"/>
<path d="M1052.5,1341 L1052.5,1323 L1314,1323 L1314,1350" fill="none" stroke="#8cc44f" stroke-width="12" stroke-linejoin="bevel" stroke-linecap="butt"/>
<path d="M1297.0,1343.0 L1314.0,1370.0 L1331.0,1343.0 L1320.0,1348.0 L1308.0,1348.0 Z" fill="#8cc44f"/>
<rect x="1308.0" y="1331.0" width="12.0" height="19.0" fill="#8cc44f"/>
<rect x="1454" y="1382" width="157" height="31" fill="#8cc44f"/>
<path d="M1611,1502 L1611,1277 L1665,1277" fill="none" stroke="#8cc44f" stroke-width="12" stroke-linejoin="bevel" stroke-linecap="butt"/>
<path d="M1659.0,1259.5 L1686.0,1277.0 L1659.0,1294.5 L1664.0,1283.0 L1664.0,1271.0 Z" fill="#8cc44f"/>
<rect x="1647.0" y="1271.0" width="19.0" height="12.0" fill="#8cc44f"/>
<path d="M1611,1391 L1665,1391" fill="none" stroke="#8cc44f" stroke-width="12" stroke-linejoin="bevel" stroke-linecap="butt"/>
<path d="M1659.0,1373.5 L1686.0,1391.0 L1659.0,1408.5 L1664.0,1397.0 L1664.0,1385.0 Z" fill="#8cc44f"/>
<rect x="1647.0" y="1385.0" width="19.0" height="12.0" fill="#8cc44f"/>
<path d="M1605,1496 L1650,1496" fill="none" stroke="#8cc44f" stroke-width="12" stroke-linejoin="bevel" stroke-linecap="butt"/>
<path d="M1644.0,1478.5 L1669.0,1496.0 L1644.0,1513.5 L1649.0,1502.0 L1649.0,1490.0 Z" fill="#8cc44f"/>
<rect x="1632.0" y="1490.0" width="19.0" height="12.0" fill="#8cc44f"/>
<path d="M1508.5,1413 L1508.5,1505" fill="none" stroke="#8cc44f" stroke-width="15" stroke-linejoin="bevel" stroke-linecap="butt"/>
<path d="M1491.0,1496.0 L1508.5,1525.0 L1526.0,1496.0 L1516.0,1501.0 L1501.0,1501.0 Z" fill="#8cc44f"/>
<rect x="1501.0" y="1484.0" width="15.0" height="19.0" fill="#8cc44f"/>
<g transform="translate(287,335) scale(1.0)" fill="#999a9b" opacity="0.265">
<use href="#logo"/>
<text x="105" y="35" font-size="35" font-weight="bold" stroke="#999a9b" stroke-width="0.4" textLength="179" lengthAdjust="spacingAndGlyphs">路德环境</text>
<text x="106" y="63" font-size="22" textLength="180" lengthAdjust="spacingAndGlyphs">Road Environment</text>
<text x="142" y="82.2" font-size="12" font-weight="bold" stroke="#999a9b" stroke-width="0.3" textLength="106" lengthAdjust="spacingAndGlyphs">证券代码:688156</text>
<path d="M108,78.5 H135 M256,78.5 H284" stroke-dasharray="1.5,1" stroke="#999a9b" stroke-width="1"/>
</g>
<g transform="translate(2000,1495) scale(1.0)" fill="#999a9b" opacity="0.265">
<use href="#logo"/>
<text x="105" y="35" font-size="35" font-weight="bold" stroke="#999a9b" stroke-width="0.4" textLength="179" lengthAdjust="spacingAndGlyphs">路德环境</text>
<text x="106" y="63" font-size="22" textLength="180" lengthAdjust="spacingAndGlyphs">Road Environment</text>
<text x="142" y="82.2" font-size="12" font-weight="bold" stroke="#999a9b" stroke-width="0.3" textLength="106" lengthAdjust="spacingAndGlyphs">证券代码:688156</text>
<path d="M108,78.5 H135 M256,78.5 H284" stroke-dasharray="1.5,1" stroke="#999a9b" stroke-width="1"/>
</g>
<g transform="translate(620,810) scale(4.24)" fill="#999a9b" opacity="0.265">
<use href="#logo"/>
<text x="105" y="35" font-size="35" font-weight="bold" stroke="#999a9b" stroke-width="0.4" textLength="179" lengthAdjust="spacingAndGlyphs">路德环境</text>
<text x="106" y="63" font-size="22" textLength="180" lengthAdjust="spacingAndGlyphs">Road Environment</text>
<text x="142" y="82.2" font-size="12" font-weight="bold" stroke="#999a9b" stroke-width="0.3" textLength="106" lengthAdjust="spacingAndGlyphs">证券代码:688156</text>
<path d="M108,78.5 H135 M256,78.5 H284" stroke-dasharray="1.5,1" stroke="#999a9b" stroke-width="1"/>
</g>
<text x="421.6" y="447.6" font-size="21.5" fill="#1e1e1e" font-weight="normal" textLength="89.9" lengthAdjust="spacingAndGlyphs" stroke="#222" stroke-width="0.45">垃圾外运</text>
<text x="881.6" y="339.6" font-size="21.5" fill="#1e1e1e" font-weight="normal" textLength="87.9" lengthAdjust="spacingAndGlyphs" stroke="#222" stroke-width="0.45">除杂设备</text>
<text x="1332.6" y="364.6" font-size="21.5" fill="#1e1e1e" font-weight="normal" textLength="46.9" lengthAdjust="spacingAndGlyphs" stroke="#222" stroke-width="0.45">泥浆</text>
<text x="1089.5" y="618.4" font-size="23.7" fill="#1e1e1e" font-weight="bold" textLength="68.9" lengthAdjust="spacingAndGlyphs" stroke="#222" stroke-width="0.45">沉淀池</text>
<text x="1683.5" y="376.4" font-size="23.7" fill="#1e1e1e" font-weight="normal" textLength="44.9" lengthAdjust="spacingAndGlyphs" stroke="#222" stroke-width="0.45">药剂</text>
<text x="627.5" y="686.5" font-size="22.6" fill="#1e1e1e" font-weight="normal" textLength="49.9" lengthAdjust="spacingAndGlyphs" stroke="#222" stroke-width="0.45">余水</text>
<text x="1149.2" y="849.6" font-size="39.8" fill="#2a2a2a" font-weight="normal" textLength="119.6" lengthAdjust="spacingAndGlyphs" stroke="#222" stroke-width="0.45">调节池</text>
<text x="1809.5" y="784.4" font-size="23.7" fill="#1e1e1e" font-weight="normal" textLength="68.9" lengthAdjust="spacingAndGlyphs" stroke="#222" stroke-width="0.45">搅拌机</text>
<text transform="translate(391.0,935.5) rotate(-90)" x="0" y="0" font-size="26.9" fill="#1e1e1e" font-weight="normal" textLength="150.1" lengthAdjust="spacingAndGlyphs">余水处理系统</text>
<text transform="translate(779.2,873.5) rotate(-90)" x="0" y="0" font-size="25.8" fill="#1e1e1e" font-weight="normal" textLength="50.0" lengthAdjust="spacingAndGlyphs">余水</text>
<text x="953.6" y="947.8" font-size="20.4" fill="#333" font-weight="bold" textLength="65.8" lengthAdjust="spacingAndGlyphs" stroke="#222" stroke-width="0.45">压滤机</text>
<text x="1867.5" y="1168.5" font-size="22.6" fill="#1e1e1e" font-weight="bold" textLength="66.9" lengthAdjust="spacingAndGlyphs" stroke="#222" stroke-width="0.45">均化池</text>
<text x="284.5" y="1210.3" font-size="24.7" fill="#1e1e1e" font-weight="normal" textLength="99.0" lengthAdjust="spacingAndGlyphs" stroke="#222" stroke-width="0.45">达标排放</text>
<text x="714.5" y="1310.5" font-size="22.6" fill="#1e1e1e" font-weight="normal" textLength="50.9" lengthAdjust="spacingAndGlyphs" stroke="#222" stroke-width="0.45">余土</text>
<text x="1296.5" y="1293.5" font-size="22.6" fill="#1e1e1e" font-weight="normal" textLength="89.9" lengthAdjust="spacingAndGlyphs" stroke="#222" stroke-width="0.45">泥饼外运</text>
<text x="1507.6" y="1351.8" font-size="20.4" fill="#1e1e1e" font-weight="normal" textLength="43.8" lengthAdjust="spacingAndGlyphs" stroke="#222" stroke-width="0.45">加工</text>
<text x="1486.6" y="1563.6" font-size="21.5" fill="#1e1e1e" font-weight="normal" textLength="45.9" lengthAdjust="spacingAndGlyphs" stroke="#222" stroke-width="0.45">填埋</text>
<text x="1817.5" y="1294.4" font-size="23.7" fill="#1e1e1e" font-weight="normal" textLength="290.9" lengthAdjust="spacingAndGlyphs" stroke="#222" stroke-width="0.45">工程土：地基、提防、公路等</text>
<text x="1854.5" y="1400.5" font-size="22.6" fill="#1e1e1e" font-weight="normal" textLength="135.9" lengthAdjust="spacingAndGlyphs" stroke="#222" stroke-width="0.45">绿化种植土壤</text>
<text x="1865.5" y="1522.3" font-size="24.7" fill="#1e1e1e" font-weight="normal" textLength="222.0" lengthAdjust="spacingAndGlyphs" stroke="#222" stroke-width="0.45">建材：陶粒、蒸压砖等</text>
<text x="807.3" y="1636.0" font-size="36.6" fill="#4a4a4a" font-weight="normal" textLength="600.5" lengthAdjust="spacingAndGlyphs" stroke="#222" stroke-width="0.45">泥浆脱水固结一体化技术工艺流程图</text>
<text x="2130.4" y="320.9" font-size="28.0" fill="#3d3a39" font-weight="normal" textLength="71.1" lengthAdjust="spacingAndGlyphs" >图例:</text>
<text x="2130.4" y="374.8" font-size="29.0" fill="#3d3a39" font-weight="normal" textLength="58.2" lengthAdjust="spacingAndGlyphs" >泥浆</text>
<rect x="2235" y="361" width="50" height="8" fill="#1b2a55"/>
<path d="M2267,349.5 L2308,365 L2267,380.5 L2276,365 Z" fill="#1b2a55"/>
<text x="2130.4" y="428.8" font-size="29.0" fill="#3d3a39" font-weight="normal" textLength="58.2" lengthAdjust="spacingAndGlyphs" >垃圾</text>
<rect x="2235" y="415" width="50" height="8" fill="#6a3593"/>
<path d="M2267,403.5 L2308,419 L2267,434.5 L2276,419 Z" fill="#6a3593"/>
<text x="2130.4" y="482.8" font-size="29.0" fill="#3d3a39" font-weight="normal" textLength="58.2" lengthAdjust="spacingAndGlyphs" >药剂</text>
<rect x="2235" y="469" width="50" height="8" fill="#e11b22"/>
<path d="M2267,457.5 L2308,473 L2267,488.5 L2276,473 Z" fill="#e11b22"/>
<text x="2130.4" y="536.8" font-size="29.0" fill="#3d3a39" font-weight="normal" textLength="58.2" lengthAdjust="spacingAndGlyphs" >余土</text>
<rect x="2235" y="523" width="50" height="8" fill="#8cc44f"/>
<path d="M2267,511.5 L2308,527 L2267,542.5 L2276,527 Z" fill="#8cc44f"/>
<text x="2130.4" y="590.8" font-size="29.0" fill="#3d3a39" font-weight="normal" textLength="58.2" lengthAdjust="spacingAndGlyphs" >余水</text>
<rect x="2235" y="577" width="50" height="8" fill="#1ea1dc"/>
<path d="M2267,565.5 L2308,581 L2267,596.5 L2276,581 Z" fill="#1ea1dc"/>
<text x="240.9" y="1843.1" font-size="53.8" fill="url(#gSub)" font-weight="bold" textLength="471.2" lengthAdjust="spacingAndGlyphs" stroke="url(#gSub)" stroke-width="1.6">脱水固结一体化技术</text>
<path d="M334.9,2129.1 A128.5,128.5 0 0 1 403.8,1962.7" fill="none" stroke="#e8e8e8" stroke-width="15"/>
<circle cx="454" cy="2081" r="122" fill="#0059ac"/>
<text x="371.1" y="2295.8" font-size="47.3" fill="#0059ac" font-weight="bold" textLength="148.9" lengthAdjust="spacingAndGlyphs" stroke="#0059ac" stroke-width="0.8">减量化</text>
<text x="369.4" y="2349.0" font-size="37.0" fill="#4a4a4a" font-weight="normal" textLength="153.7" lengthAdjust="spacingAndGlyphs" >Reduction</text>
<path d="M899.0,1959.2 A128.5,128.5 0 0 1 979.5,2122.8" fill="none" stroke="#e8e8e8" stroke-width="15"/>
<circle cx="858" cy="2081" r="122" fill="#00a0d8"/>
<text x="790.1" y="2295.8" font-size="47.3" fill="#00a0d8" font-weight="bold" textLength="148.9" lengthAdjust="spacingAndGlyphs" stroke="#00a0d8" stroke-width="0.8">无害化</text>
<text x="794.4" y="2349.0" font-size="37.0" fill="#4a4a4a" font-weight="normal" textLength="140.7" lengthAdjust="spacingAndGlyphs" >Harmless</text>
<path d="M1349.7,1974.7 A128.5,128.5 0 0 1 1382.5,2151.9" fill="none" stroke="#e8e8e8" stroke-width="15"/>
<circle cx="1276" cy="2080" r="122" fill="#00894a"/>
<text x="1208.1" y="2295.8" font-size="47.3" fill="#00894a" font-weight="bold" textLength="148.9" lengthAdjust="spacingAndGlyphs" stroke="#00894a" stroke-width="0.8">稳定化</text>
<text x="1234.4" y="2349.0" font-size="37.0" fill="#4a4a4a" font-weight="normal" textLength="96.7" lengthAdjust="spacingAndGlyphs" >Stable</text>
<path d="M1788.6,2167.0 A128.5,128.5 0 0 1 1607.8,2161.5" fill="none" stroke="#e8e8e8" stroke-width="15"/>
<circle cx="1701" cy="2073" r="122" fill="#0059ac"/>
<text x="1627.1" y="2295.8" font-size="47.3" fill="#0059ac" font-weight="bold" textLength="147.9" lengthAdjust="spacingAndGlyphs" stroke="#0059ac" stroke-width="0.8">资源化</text>
<text x="1580.4" y="2349.0" font-size="37.0" fill="#4a4a4a" font-weight="normal" textLength="239.7" lengthAdjust="spacingAndGlyphs" >Resource-based</text>
<path d="M2096.9,1958.6 A128.5,128.5 0 0 1 2240.6,2067.0" fill="none" stroke="#e8e8e8" stroke-width="15"/>
<circle cx="2113.5" cy="2086" r="122" fill="#009fd6"/>
<text x="2045.1" y="2295.8" font-size="47.3" fill="#009fd6" font-weight="bold" textLength="147.9" lengthAdjust="spacingAndGlyphs" stroke="#009fd6" stroke-width="0.8">工厂化</text>
<text x="2013.4" y="2349.0" font-size="37.0" fill="#4a4a4a" font-weight="normal" textLength="211.2" lengthAdjust="spacingAndGlyphs" >Factory-based</text>
<path d="M448,2026.6 L412,2026.6 Q402,2026.6 402,2036.6 L402,2124.3 Q402,2134.3 412,2134.3 L499.6,2134.3 Q509.6,2134.3 509.6,2124.3 L509.6,2088" fill="none" stroke="#fff" stroke-width="8.5" stroke-linecap="butt"/>
<path d="M507,2029 L456,2080" fill="none" stroke="#fff" stroke-width="9" stroke-linecap="round"/>
<path d="M454,2040 L454,2083 L496,2083" fill="none" stroke="#fff" stroke-width="9" stroke-linecap="round" stroke-linejoin="round"/>
<path d="M909.2,2073.3 L927.3,2075.5 L923.7,2104.3 L905.7,2102.1 A49,49 0 0 1 892.6,2119.4 L899.7,2136.2 L873.1,2147.5 L865.9,2130.8 A49,49 0 0 1 844.4,2128.1 L833.5,2142.6 L810.3,2125.2 L821.3,2110.7 A49,49 0 0 1 812.8,2090.7 L794.7,2088.5 L798.3,2059.7 L816.3,2061.9 A49,49 0 0 1 829.4,2044.6 L822.3,2027.8 L848.9,2016.5 L856.1,2033.2 A49,49 0 0 1 877.6,2035.9 L888.5,2021.4 L911.7,2038.8 L900.7,2053.3 A49,49 0 0 1 909.2,2073.3 Z" fill="none" stroke="#fff" stroke-width="10" stroke-linejoin="round"/>
<circle cx="861" cy="2082" r="26" fill="none" stroke="#fff" stroke-width="9.5"/>
<clipPath id="clipLow"><rect x="1100" y="2086" width="400" height="200"/></clipPath>
<ellipse cx="1275.6" cy="2091" rx="85" ry="26" transform="rotate(12 1275.6 2091)" fill="none" stroke="#fff" stroke-width="4.5"/>
<ellipse cx="1275.6" cy="2098" rx="82" ry="23" transform="rotate(12 1275.6 2098)" fill="none" stroke="#fff" stroke-width="4"/>
<path d="M1277.2,2010.8 C1268,2023 1250,2033 1226,2033.7 L1226,2084 C1227,2108 1248,2134 1277.2,2147.8 C1306,2134 1327,2108 1328,2084 L1328,2033.7 C1304,2033 1286,2023 1277.2,2010.8 Z" fill="#00894a" stroke="#fff" stroke-width="8" stroke-linejoin="round"/>
<g clip-path="url(#clipLow)"><ellipse cx="1275.6" cy="2091" rx="85" ry="26" transform="rotate(12 1275.6 2091)" fill="none" stroke="#fff" stroke-width="4.5"/>
<ellipse cx="1275.6" cy="2098" rx="82" ry="23" transform="rotate(12 1275.6 2098)" fill="none" stroke="#fff" stroke-width="4"/></g>
<rect x="1233.4" y="2058" width="87.6" height="19" fill="#fff"/>
<path d="M1252,2058 L1257.6,2058 L1249.2,2077 L1243.6,2077 Z" fill="#00894a"/>
<path d="M1269.8,2058 L1275.3999999999999,2058 L1267.0,2077 L1261.3999999999999,2077 Z" fill="#00894a"/>
<path d="M1287.8,2058 L1293.3999999999999,2058 L1285.0,2077 L1279.3999999999999,2077 Z" fill="#00894a"/>
<path d="M1305.7,2058 L1311.3,2058 L1302.9,2077 L1297.3,2077 Z" fill="#00894a"/>
<path d="M1657.0,2038.4 L1672.8,2008.9 Q1676.3,2001.0 1685.6,2001.0 L1724.7,2001.0 Q1715.0,2003.2 1710.6,2011.6 L1685.6,2055.6 Z" fill="#fff"/>
<path d="M1707.1,2025.2 L1713.3,2012.4 Q1718.5,2004.5 1726.5,2004.5 Q1733.5,2004.5 1737.9,2012.0 L1743.6,2021.7 L1754.2,2015.5 L1737.9,2045.9 L1704.5,2045.9 L1714.6,2039.7 Z" fill="#fff"/>
<path d="M1632.8,2056.0 L1666.6,2056.0 L1682.9,2085.9 L1672.4,2080.2 L1657.0,2107.9 Q1653.4,2114.9 1655.2,2124.6 L1635.4,2089.9 Q1631.9,2083.3 1635.8,2076.7 L1643.3,2062.6 Z" fill="#fff"/>
<path d="M1666.6,2097.8 L1700.5,2097.8 L1700.5,2131.7 L1670.2,2131.7 Q1661.4,2131.7 1657.8,2123.7 Q1655.2,2117.6 1658.7,2110.5 Z" fill="#fff"/>
<path d="M1728.2,2084.6 L1728.2,2096.9 L1760.8,2096.9 Q1769.6,2096.5 1775.3,2089.4 L1754.6,2125.5 Q1750.2,2131.7 1744.9,2131.7 L1728.2,2131.7 L1728.2,2144.0 L1711.5,2114.1 Z" fill="#fff"/>
<path d="M1729.5,2063.5 L1758.6,2046.8 L1772.7,2072.3 Q1776.2,2078.9 1774.0,2085.0 Q1770.5,2093.8 1761.7,2093.8 L1746.3,2093.8 Z" fill="#fff"/>
<g fill="none" stroke="#fff" stroke-width="8">
<path d="M2068,2135 L2068,2028 L2127,2028 L2127,2135"/>
<path d="M2127,2048 L2174,2048 L2174,2135"/>
<path d="M2049,2135 L2049,2068 L2068,2068"/>
</g>
<rect x="2033" y="2131" width="157" height="8.5" fill="#fff"/>
<rect x="2081" y="2056" width="34" height="16" fill="none" stroke="#fff" stroke-width="6"/>
<rect x="2082" y="2085" width="32" height="8" fill="#fff"/><rect x="2082" y="2101" width="32" height="8" fill="#fff"/>
<rect x="2138" y="2078" width="25" height="8" fill="#fff"/><rect x="2138" y="2101" width="25" height="8" fill="#fff"/>
</svg></body></html>
